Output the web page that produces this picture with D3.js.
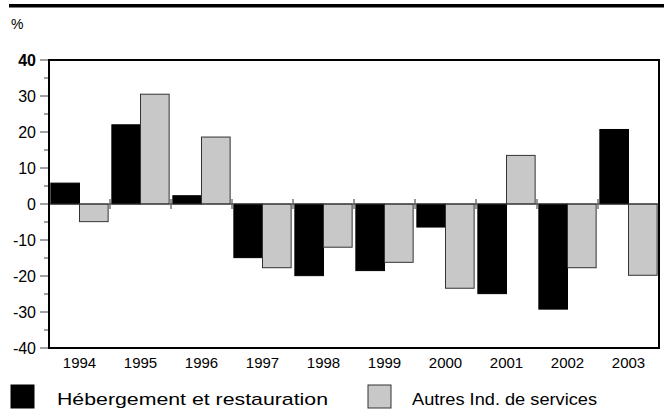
<!DOCTYPE html>
<html><head><meta charset="utf-8">
<script src="https://cdn.jsdelivr.net/npm/d3@7"></script>
<style>body{margin:0;background:#fff}svg{display:block}</style>
</head><body>
<script>
const years = ["1994","1995","1996","1997","1998","1999","2000","2001","2002","2003"];
const hebergement = [5.8, 22.0, 2.3, -14.9, -19.9, -18.5, -6.4, -24.9, -29.2, 20.7];
const autres = [-4.9, 30.5, 18.6, -17.7, -12.0, -16.2, -23.4, 13.5, -17.7, -19.8];
const seriesNames = ["Hébergement et restauration", "Autres Ind. de services"];
const yTicks = [40, 30, 20, 10, 0, -10, -20, -30, -40];

const W = 664, H = 417;
const svg = d3.select("body").append("svg").attr("width", W).attr("height", H)
  .attr("font-family", "'Liberation Sans', Arial, Helvetica, sans-serif");
const L = 49, R = 659, T = 60, B = 348;
const x = d3.scaleBand().domain(years).range([L, R]).paddingInner(0).paddingOuter(0);
const xs = d3.scaleBand().domain([0,1]).range([0, x.bandwidth()]).paddingOuter(0.065).paddingInner(0);
const y = d3.scaleLinear().domain([-40, 40]).range([B, T]);

// top rule
svg.append("rect").attr("x", 9).attr("y", 4).attr("width", W - 9).attr("height", 3.5).attr("fill", "#000");
svg.append("text").attr("x", 11).attr("y", 29).attr("font-size", 14).text("%");

// y axis ticks
const minor = d3.range(-35, 40, 10);
svg.append("g").selectAll("line").data(minor).join("line")
  .attr("x1", 44).attr("x2", L).attr("y1", d => y(d)).attr("y2", d => y(d))
  .attr("stroke", "#444").attr("stroke-width", 1);
svg.append("g").selectAll("line").data(yTicks).join("line")
  .attr("x1", 40).attr("x2", L).attr("y1", d => y(d)).attr("y2", d => y(d))
  .attr("stroke", "#444").attr("stroke-width", 1);
svg.append("g").selectAll("text").data(yTicks).join("text")
  .attr("x", 36).attr("y", d => y(d) + 6).attr("text-anchor", "end")
  .attr("font-size", 16).attr("font-weight", d => d === 40 ? "bold" : "normal")
  .text(d => d);

// bars
const g = svg.append("g");
years.forEach((yr, i) => {
  [hebergement[i], autres[i]].forEach((v, s) => {
    g.append("rect")
      .attr("x", x(yr) + xs(s)).attr("width", xs.bandwidth())
      .attr("y", y(Math.max(0, v))).attr("height", Math.abs(y(v) - y(0)))
      .attr("fill", s === 0 ? "#000" : "#c8c8c8")
      .attr("stroke", s === 0 ? "#000" : "#333").attr("stroke-width", 1);
  });
});

// zero line
svg.append("line").attr("x1", L).attr("x2", R).attr("y1", y(0)).attr("y2", y(0)).attr("stroke", "#333").attr("stroke-width", 1.2);
// category separators on zero line
svg.append("g").selectAll("line").data(years.slice(1)).join("line")
  .attr("x1", d => x(d)).attr("x2", d => x(d)).attr("y1", y(0) - 5).attr("y2", y(0) + 5)
  .attr("stroke", "#333").attr("stroke-width", 1);

// frame
svg.append("rect").attr("x", L).attr("y", T).attr("width", R - L).attr("height", B - T)
  .attr("fill", "none").attr("stroke", "#000").attr("stroke-width", 2);

// x labels
svg.append("g").selectAll("text").data(years).join("text")
  .attr("x", d => x(d) + x.bandwidth() / 2).attr("y", 368).attr("text-anchor", "middle")
  .attr("font-size", 15).text(d => d);

// legend
const leg = [{x: 11, tx: 57, len: 271}, {x: 368, tx: 412, len: 185}];
seriesNames.forEach((n, i) => {
  svg.append("rect").attr("x", leg[i].x).attr("y", 385).attr("width", 23).attr("height", 23)
    .attr("fill", i === 0 ? "#000" : "#c8c8c8").attr("stroke", i === 0 ? "#000" : "#333").attr("stroke-width", 1);
  svg.append("text").attr("x", leg[i].tx).attr("y", 405).attr("font-size", 17)
    .attr("textLength", leg[i].len).attr("lengthAdjust", "spacingAndGlyphs").text(n);
});
</script>
</body></html>
